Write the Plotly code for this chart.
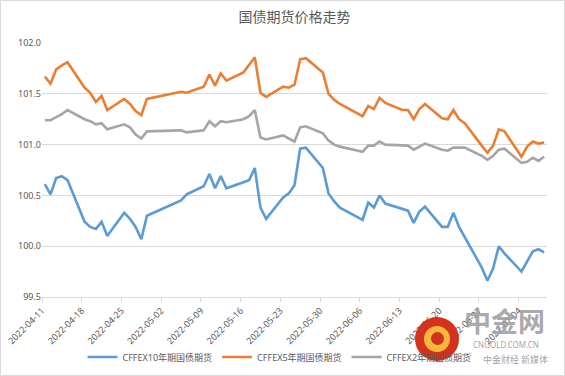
import plotly.graph_objects as go
import pandas as pd

dates = [
    "2022-04-11", "2022-04-12", "2022-04-13", "2022-04-14", "2022-04-15",
    "2022-04-18", "2022-04-19", "2022-04-20", "2022-04-21", "2022-04-22",
    "2022-04-25", "2022-04-26", "2022-04-27", "2022-04-28", "2022-04-29",
    "2022-05-05", "2022-05-06",
    "2022-05-09", "2022-05-10", "2022-05-11", "2022-05-12", "2022-05-13",
    "2022-05-16", "2022-05-17", "2022-05-18", "2022-05-19", "2022-05-20",
    "2022-05-23", "2022-05-24", "2022-05-25", "2022-05-26", "2022-05-27",
    "2022-05-30", "2022-05-31", "2022-06-01", "2022-06-02",
    "2022-06-06", "2022-06-07", "2022-06-08", "2022-06-09", "2022-06-10",
    "2022-06-13", "2022-06-14", "2022-06-15", "2022-06-16", "2022-06-17",
    "2022-06-20", "2022-06-21", "2022-06-22", "2022-06-23", "2022-06-24",
    "2022-06-27", "2022-06-28", "2022-06-29", "2022-06-30", "2022-07-01",
    "2022-07-04", "2022-07-05", "2022-07-06", "2022-07-07", "2022-07-08",
]

t10 = [
    100.61, 100.51, 100.67, 100.69, 100.65,
    100.24, 100.19, 100.17, 100.24, 100.10,
    100.33, 100.27, 100.19, 100.07, 100.30,
    100.45, 100.51,
    100.59, 100.71, 100.57, 100.69, 100.57,
    100.63, 100.65, 100.77, 100.38, 100.27,
    100.48, 100.52, 100.60, 100.96, 100.97,
    100.77, 100.52, 100.44, 100.38,
    100.26, 100.43, 100.38, 100.50, 100.42,
    100.37, 100.35, 100.23, 100.34, 100.39,
    100.19, 100.19, 100.33, 100.19, 100.09,
    99.79, 99.66, 99.78, 100.00, 99.93,
    99.75, 99.85, 99.95, 99.97, 99.94,
]

t5 = [
    101.67, 101.60, 101.74, 101.78, 101.81,
    101.56, 101.51, 101.42, 101.48, 101.34,
    101.45, 101.40, 101.33, 101.29, 101.45,
    101.52, 101.51,
    101.57, 101.69, 101.58, 101.70, 101.63,
    101.71, 101.78, 101.86, 101.51, 101.47,
    101.57, 101.56, 101.59, 101.84, 101.85,
    101.71, 101.50, 101.44, 101.40,
    101.28, 101.38, 101.35, 101.46, 101.41,
    101.34, 101.34, 101.25, 101.35, 101.40,
    101.26, 101.25, 101.34, 101.25, 101.21,
    100.99, 100.92, 100.99, 101.15, 101.13,
    100.88, 100.98, 101.03, 101.01, 101.02,
]

t2 = [
    101.24, 101.24, 101.27, 101.30, 101.34,
    101.25, 101.23, 101.20, 101.21, 101.15,
    101.20, 101.17, 101.10, 101.06, 101.13,
    101.14, 101.12,
    101.14, 101.23, 101.18, 101.23, 101.22,
    101.25, 101.28, 101.34, 101.07, 101.05,
    101.09, 101.06, 101.03, 101.17, 101.18,
    101.11, 101.04, 101.00, 100.98,
    100.93, 100.99, 100.99, 101.03, 101.00,
    100.99, 100.99, 100.95, 100.98, 101.01,
    100.95, 100.94, 100.97, 100.97, 100.97,
    100.89, 100.85, 100.89, 100.95, 100.96,
    100.82, 100.83, 100.87, 100.84, 100.88,
]

series_names = ["CFFEX10年期国债期货", "CFFEX5年期国债期货", "CFFEX2年期国债期货"]
series_colors = ["#5B9BD5", "#ED7D31", "#A5A5A5"]
tick_labels = ["2022-04-11", "2022-04-18", "2022-04-25", "2022-05-02", "2022-05-09",
               "2022-05-16", "2022-05-23", "2022-05-30", "2022-06-06", "2022-06-13",
               "2022-06-20", "2022-06-27", "2022-07-04"]
title_text = "国债期货价格走势"
watermark_texts = ["中金网", "CNGOLD.COM.CN", "中金财经 新媒体"]

FONT = "Noto Sans, Noto Sans CJK SC, sans-serif"
TXT = "#595959"
GRID = "#D9D9D9"

x = pd.to_datetime(dates)
fig = go.Figure()
for vals, name, col in zip([t10, t5, t2], series_names, series_colors):
    fig.add_trace(go.Scatter(x=x, y=vals, mode="lines", name=name,
                             line=dict(color=col, width=2.6)))

# tick marks sit at the start of each day's slot (Excel date axis, between tick marks)
tickvals = [pd.Timestamp(t) - pd.Timedelta(hours=12) for t in tick_labels]
x_start = pd.Timestamp(dates[0]) - pd.Timedelta(hours=12)
x_end = pd.Timestamp(dates[-1]) + pd.Timedelta(hours=12)

L, R, T, B = 42, 18, 43, 79
W, H = 565, 376
PW, PH = W - L - R, H - T - B

def px(xp):
    return (xp - L) / PW

def py(yp):
    return (H - B - yp) / PH

shapes = [
    dict(type="rect", xref="paper", yref="paper",
         x0=px(0.5), x1=px(W - 0.5), y0=py(H - 0.5), y1=py(0.5),
         line=dict(color="#D9D9D9", width=1), fillcolor="rgba(0,0,0,0)", layer="below"),
    # watermark logo
    dict(type="circle", xref="paper", yref="paper",
         x0=px(415), x1=px(459), y0=py(361), y1=py(317),
         line=dict(width=0), fillcolor="#D2321E", layer="above"),
    dict(type="circle", xref="paper", yref="paper",
         x0=px(424), x1=px(450), y0=py(352), y1=py(326),
         line=dict(width=0), fillcolor="#F6B73C", layer="above"),
    dict(type="circle", xref="paper", yref="paper",
         x0=px(431), x1=px(444), y0=py(345), y1=py(332),
         line=dict(width=0), fillcolor="#D2321E", layer="above"),
]

annotations = [
    dict(text="<b>" + watermark_texts[0] + "</b>", xref="paper", yref="paper",
         x=px(504), y=py(320), xanchor="center", yanchor="middle", showarrow=False,
         font=dict(family="Noto Sans CJK SC", size=27, color="rgba(160,160,160,0.9)")),
    dict(text=watermark_texts[1], xref="paper", yref="paper", x=px(506), y=py(344),
         xanchor="center", yanchor="middle", showarrow=False,
         font=dict(family="Noto Sans", size=8, color="rgba(150,150,150,0.9)")),
    dict(text=watermark_texts[2], xref="paper", yref="paper", x=px(550), y=py(359),
         xanchor="right", yanchor="middle", showarrow=False,
         font=dict(family="Noto Sans CJK SC", size=9, color="rgba(150,150,150,0.9)")),
]

fig.update_layout(
    width=W, height=H,
    margin=dict(l=L, r=R, t=T, b=B, autoexpand=False),
    paper_bgcolor="white", plot_bgcolor="white",
    font=dict(family=FONT, color=TXT, size=9),
    title=dict(text=title_text, x=0.5, xref="paper", xanchor="center",
               y=1 - 17 / H, yref="container", yanchor="middle",
               font=dict(family="Noto Sans CJK SC", size=14, color=TXT)),
    showlegend=True,
    legend=dict(orientation="h", x=0.5 - 15 / PW, xanchor="center", y=py(357), yanchor="middle",
                font=dict(family=FONT, size=9, color=TXT), itemwidth=30,
                bgcolor="rgba(0,0,0,0)", traceorder="normal"),
    shapes=shapes,
    annotations=annotations,
    xaxis=dict(type="date", range=[x_start, x_end], tickvals=tickvals, ticktext=tick_labels,
               tickangle=-45, showgrid=False, showline=True, linecolor=GRID, linewidth=1,
               ticks="outside", ticklen=4, tickcolor=GRID, zeroline=False, automargin=False,
               tickfont=dict(size=9, color=TXT)),
    yaxis=dict(range=[99.5, 102.0], dtick=0.5, tickformat=".1f", showgrid=True,
               gridcolor=GRID, gridwidth=1, zeroline=False, showline=False, ticks="",
               automargin=False, tickfont=dict(size=9, color=TXT)),
    hovermode=False,
)

fig.write_html("out.html", config={"displayModeBar": False},
               post_script="document.body.style.margin='0';document.body.style.overflow='hidden';")
